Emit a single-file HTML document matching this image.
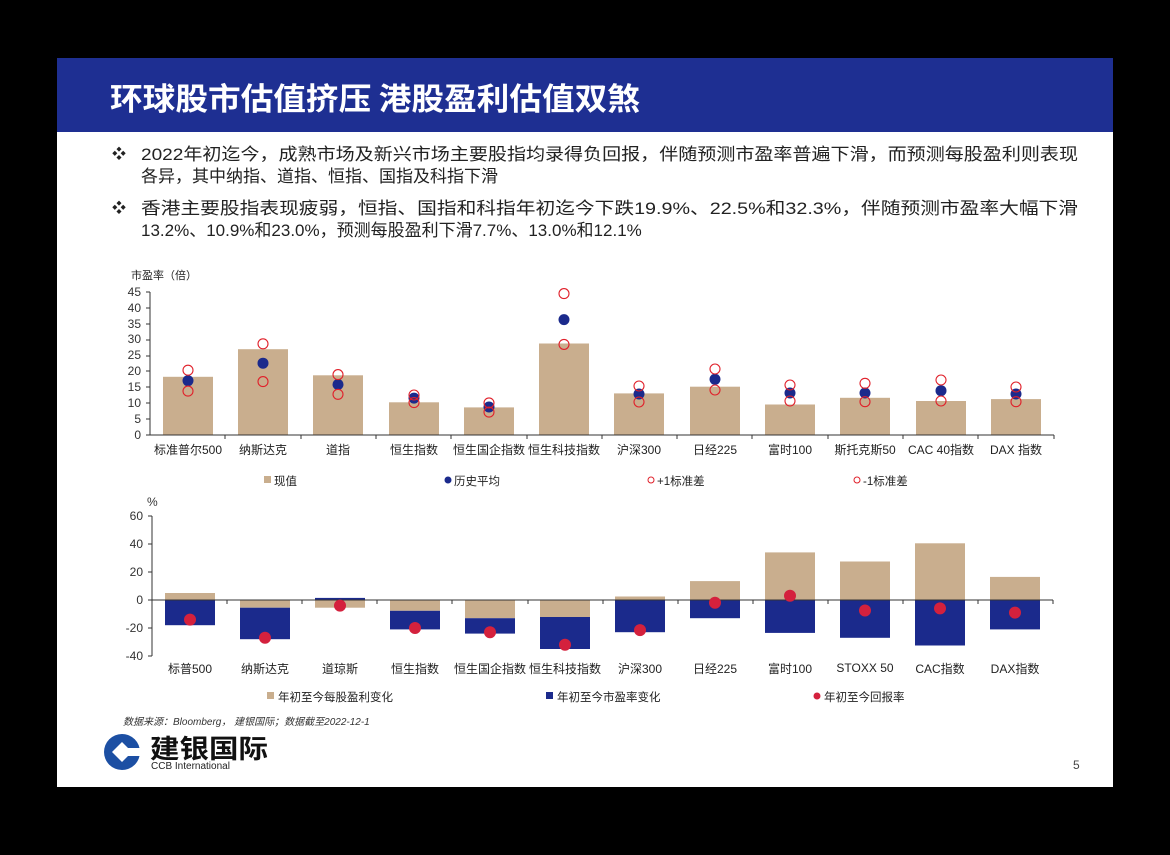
<!DOCTYPE html>
<html><head><meta charset="utf-8"><style>
html,body{margin:0;padding:0;background:#000;}
svg{display:block;font-family:"Liberation Sans","Noto Sans CJK SC",sans-serif;}
</style></head><body>
<svg width="1170" height="855" viewBox="0 0 1170 855" xmlns="http://www.w3.org/2000/svg">
<rect x="0" y="0" width="1170" height="855" fill="#000"/>
<rect x="57" y="58" width="1056" height="729" fill="#fff"/>
<rect x="57" y="58" width="1056" height="74" fill="#1e2f92"/>
<text x="110" y="110" font-size="31" font-weight="bold" fill="#fff" textLength="530" lengthAdjust="spacingAndGlyphs" font-family="'Noto Sans CJK SC',sans-serif">环球股市估值挤压 港股盈利估值双煞</text>
<g font-size="17" fill="#222" font-family="'Liberation Sans','Noto Sans CJK SC',sans-serif">
<text x="112" y="159" font-size="14">❖</text>
<text x="141" y="160" textLength="937" lengthAdjust="spacingAndGlyphs">2022年初迄今，成熟市场及新兴市场主要股指均录得负回报，伴随预测市盈率普遍下滑，而预测每股盈利则表现</text>
<text x="141" y="182">各异，其中纳指、道指、恒指、国指及科指下滑</text>
<text x="112" y="213" font-size="14">❖</text>
<text x="141" y="214" textLength="937" lengthAdjust="spacingAndGlyphs">香港主要股指表现疲弱，恒指、国指和科指年初迄今下跌19.9%、22.5%和32.3%，伴随预测市盈率大幅下滑</text>
<text x="141" y="236">13.2%、10.9%和23.0%，预测每股盈利下滑7.7%、13.0%和12.1%</text>
</g>
<!-- top chart -->
<text x="131" y="279" font-size="11" fill="#222">市盈率（倍）</text>
<g font-size="12" fill="#333" text-anchor="end">
<text x="141" y="439">0</text><text x="141" y="423">5</text><text x="141" y="407">10</text><text x="141" y="391">15</text><text x="141" y="375">20</text><text x="141" y="359">25</text><text x="141" y="343">30</text><text x="141" y="328">35</text><text x="141" y="312">40</text><text x="141" y="296">45</text>
</g>
<g fill="#c9ae8e">
<rect x="163" y="376.8" width="50" height="58.2"/><rect x="238" y="349.2" width="50" height="85.8"/><rect x="313" y="375.3" width="50" height="59.7"/><rect x="389" y="402.3" width="50" height="32.7"/><rect x="464" y="407.4" width="50" height="27.6"/><rect x="539" y="343.5" width="50" height="91.5"/><rect x="614" y="393.4" width="50" height="41.6"/><rect x="690" y="386.7" width="50" height="48.3"/><rect x="765" y="404.5" width="50" height="30.5"/><rect x="840" y="397.8" width="50" height="37.2"/><rect x="916" y="401" width="50" height="34"/><rect x="991" y="399.1" width="50" height="35.9"/>
</g>
<g stroke="#333" stroke-width="1">
<line x1="150" y1="292" x2="150" y2="435"/><line x1="150" y1="435" x2="1054" y2="435"/>
<line x1="146" y1="435" x2="150" y2="435"/><line x1="146" y1="419" x2="150" y2="419"/><line x1="146" y1="403" x2="150" y2="403"/><line x1="146" y1="387" x2="150" y2="387"/><line x1="146" y1="371" x2="150" y2="371"/><line x1="146" y1="356" x2="150" y2="356"/><line x1="146" y1="340" x2="150" y2="340"/><line x1="146" y1="324" x2="150" y2="324"/><line x1="146" y1="308" x2="150" y2="308"/><line x1="146" y1="292" x2="150" y2="292"/>
<line x1="225" y1="435" x2="225" y2="439"/><line x1="301" y1="435" x2="301" y2="439"/><line x1="376" y1="435" x2="376" y2="439"/><line x1="451" y1="435" x2="451" y2="439"/><line x1="527" y1="435" x2="527" y2="439"/><line x1="602" y1="435" x2="602" y2="439"/><line x1="677" y1="435" x2="677" y2="439"/><line x1="752" y1="435" x2="752" y2="439"/><line x1="828" y1="435" x2="828" y2="439"/><line x1="903" y1="435" x2="903" y2="439"/><line x1="978" y1="435" x2="978" y2="439"/><line x1="1054" y1="435" x2="1054" y2="439"/>
</g>
<g fill="#1b2a8c">
<circle cx="188" cy="380.7" r="5.5"/><circle cx="263" cy="363.2" r="5.5"/><circle cx="338" cy="384.5" r="5.5"/><circle cx="414" cy="398.1" r="5.5"/><circle cx="489" cy="407" r="5.5"/><circle cx="564" cy="319.6" r="5.5"/><circle cx="639" cy="394" r="5.5"/><circle cx="715" cy="379.3" r="5.5"/><circle cx="790" cy="393" r="5.5"/><circle cx="865" cy="393" r="5.5"/><circle cx="941" cy="390.7" r="5.5"/><circle cx="1016" cy="394" r="5.5"/>
</g>
<g fill="none" stroke="#e0202a" stroke-width="1.1">
<circle cx="188" cy="370.2" r="5"/><circle cx="263" cy="343.8" r="5"/><circle cx="338" cy="374.6" r="5"/><circle cx="414" cy="395" r="5"/><circle cx="489" cy="402.9" r="5"/><circle cx="564" cy="293.6" r="5"/><circle cx="639" cy="386" r="5"/><circle cx="715" cy="369" r="5"/><circle cx="790" cy="385" r="5"/><circle cx="865" cy="383.3" r="5"/><circle cx="941" cy="380" r="5"/><circle cx="1016" cy="387" r="5"/>
<circle cx="188" cy="391.1" r="5"/><circle cx="263" cy="381.6" r="5"/><circle cx="338" cy="394.3" r="5"/><circle cx="414" cy="402.6" r="5"/><circle cx="489" cy="412.1" r="5"/><circle cx="564" cy="344.4" r="5"/><circle cx="639" cy="402" r="5"/><circle cx="715" cy="390" r="5"/><circle cx="790" cy="401" r="5"/><circle cx="865" cy="401.7" r="5"/><circle cx="941" cy="401" r="5"/><circle cx="1016" cy="401.7" r="5"/>
</g>
<g font-size="12" fill="#222" text-anchor="middle">
<text x="188" y="454">标准普尔500</text><text x="263" y="454">纳斯达克</text><text x="338" y="454">道指</text><text x="414" y="454">恒生指数</text><text x="489" y="454">恒生国企指数</text><text x="564" y="454">恒生科技指数</text><text x="639" y="454">沪深300</text><text x="715" y="454">日经225</text><text x="790" y="454">富时100</text><text x="865" y="454">斯托克斯50</text><text x="941" y="454">CAC 40指数</text><text x="1016" y="454">DAX 指数</text>
</g>
<g font-size="11.5" fill="#222">
<rect x="264" y="476" width="7" height="7" fill="#c9ae8e"/><text x="274" y="485">现值</text>
<circle cx="448" cy="480" r="3.5" fill="#1b2a8c"/><text x="454" y="485">历史平均</text>
<circle cx="651" cy="480" r="3" fill="none" stroke="#e0202a"/><text x="657" y="485">+1标准差</text>
<circle cx="857" cy="480" r="3" fill="none" stroke="#e0202a"/><text x="863" y="485">-1标准差</text>
</g>
<!-- bottom chart -->
<text x="147" y="506" font-size="12" fill="#333">%</text>
<g font-size="12" fill="#333" text-anchor="end">
<text x="143" y="520">60</text><text x="143" y="548">40</text><text x="143" y="576">20</text><text x="143" y="604">0</text><text x="143" y="632">-20</text><text x="143" y="660">-40</text>
</g>
<g fill="#c9ae8e">
<rect x="165" y="593" width="50" height="7"/><rect x="240" y="600" width="50" height="7.7"/><rect x="315" y="600" width="50" height="7.7"/><rect x="390" y="600" width="50" height="10.8"/><rect x="465" y="600" width="50" height="18.2"/><rect x="540" y="600" width="50" height="17"/><rect x="615" y="596.5" width="50" height="3.5"/><rect x="690" y="581.1" width="50" height="18.9"/><rect x="765" y="552.4" width="50" height="47.6"/><rect x="840" y="561.5" width="50" height="38.5"/><rect x="915" y="543.3" width="50" height="56.7"/><rect x="990" y="576.9" width="50" height="23.1"/>
</g>
<g fill="#1b2a8c">
<rect x="165" y="600" width="50" height="25.2"/><rect x="240" y="607.7" width="50" height="31.5"/><rect x="315" y="597.9" width="50" height="2.1"/><rect x="390" y="610.8" width="50" height="18.6"/><rect x="465" y="618.2" width="50" height="15.4"/><rect x="540" y="617" width="50" height="32"/><rect x="615" y="600" width="50" height="32.2"/><rect x="690" y="600" width="50" height="18.2"/><rect x="765" y="600" width="50" height="32.9"/><rect x="840" y="600" width="50" height="37.8"/><rect x="915" y="600" width="50" height="45.5"/><rect x="990" y="600" width="50" height="29.4"/>
</g>
<g stroke="#333" stroke-width="1">
<line x1="152" y1="516" x2="152" y2="656"/><line x1="152" y1="600" x2="1053" y2="600"/>
<line x1="148" y1="516" x2="152" y2="516"/><line x1="148" y1="544" x2="152" y2="544"/><line x1="148" y1="572" x2="152" y2="572"/><line x1="148" y1="600" x2="152" y2="600"/><line x1="148" y1="628" x2="152" y2="628"/><line x1="148" y1="656" x2="152" y2="656"/>
<line x1="227" y1="600" x2="227" y2="604"/><line x1="302" y1="600" x2="302" y2="604"/><line x1="377" y1="600" x2="377" y2="604"/><line x1="452" y1="600" x2="452" y2="604"/><line x1="528" y1="600" x2="528" y2="604"/><line x1="603" y1="600" x2="603" y2="604"/><line x1="678" y1="600" x2="678" y2="604"/><line x1="753" y1="600" x2="753" y2="604"/><line x1="828" y1="600" x2="828" y2="604"/><line x1="903" y1="600" x2="903" y2="604"/><line x1="978" y1="600" x2="978" y2="604"/><line x1="1053" y1="600" x2="1053" y2="604"/>
</g>
<g fill="#d4213d">
<circle cx="190" cy="619.6" r="6"/><circle cx="265" cy="637.8" r="6"/><circle cx="340" cy="605.6" r="6"/><circle cx="415" cy="628" r="6"/><circle cx="490" cy="632.2" r="6"/><circle cx="565" cy="644.8" r="6"/><circle cx="640" cy="630.1" r="6"/><circle cx="715" cy="602.8" r="6"/><circle cx="790" cy="595.8" r="6"/><circle cx="865" cy="610.5" r="6"/><circle cx="940" cy="608.4" r="6"/><circle cx="1015" cy="612.6" r="6"/>
</g>
<g font-size="12" fill="#222" text-anchor="middle">
<text x="190" y="673">标普500</text><text x="265" y="673">纳斯达克</text><text x="340" y="673">道琼斯</text><text x="415" y="673">恒生指数</text><text x="490" y="673">恒生国企指数</text><text x="565" y="673">恒生科技指数</text><text x="640" y="673">沪深300</text><text x="715" y="673">日经225</text><text x="790" y="673">富时100</text><text x="865" y="672">STOXX 50</text><text x="940" y="673">CAC指数</text><text x="1015" y="673">DAX指数</text>
</g>
<g font-size="11.5" fill="#222">
<rect x="267" y="692" width="7" height="7" fill="#c9ae8e"/><text x="278" y="701">年初至今每股盈利变化</text>
<rect x="546" y="692" width="7" height="7" fill="#1b2a8c"/><text x="557" y="701">年初至今市盈率变化</text>
<circle cx="817" cy="696" r="3.5" fill="#d4213d"/><text x="824" y="701">年初至今回报率</text>
</g>
<text x="123" y="725" font-size="10" font-style="italic" fill="#333">数据来源：Bloomberg， 建银国际；数据截至2022-12-1</text>
<!-- logo -->
<g>
<circle cx="122" cy="752" r="18" fill="#1c4fa3"/>
<path d="M122 742 L132 752 L122 762 L112 752 Z" fill="#fff"/>
<rect x="128" y="748" width="16" height="8" fill="#fff"/>
</g>
<text x="150" y="758" font-size="26" font-weight="bold" fill="#111" textLength="118" lengthAdjust="spacingAndGlyphs" font-family="'Noto Sans CJK SC',sans-serif">建银国际</text>
<text x="151" y="769" font-size="10" fill="#222">CCB International</text>
<text x="1073" y="769" font-size="12" fill="#444">5</text>
</svg>
</body></html>
